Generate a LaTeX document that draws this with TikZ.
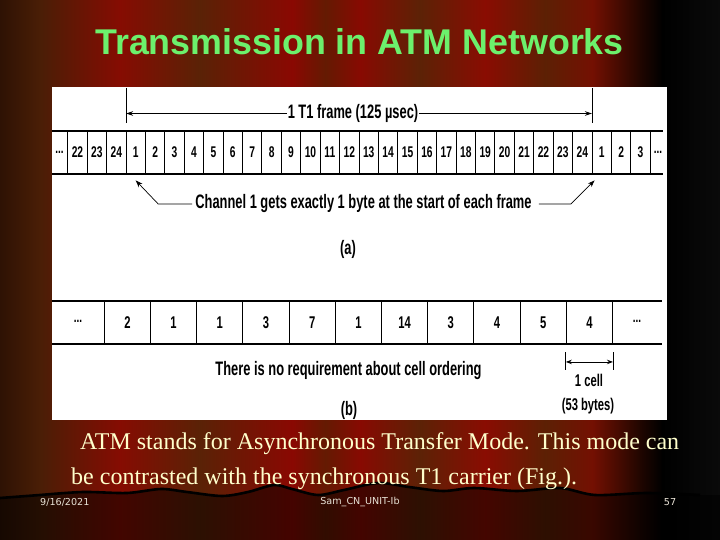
\documentclass[tikz,border=0pt]{standalone}
\usepackage{fontspec}
\usepackage{graphicx}
\setmainfont{Liberation Serif}
\newfontfamily\figfont[FakeStretch=0.66]{Liberation Sans}
\newfontfamily\titlefont{Liberation Sans}
\newfontfamily\footfont{DejaVu Sans}
\usetikzlibrary{arrows.meta}
\definecolor{s0}{RGB}{46,18,4}
\definecolor{s1}{RGB}{74,30,6}
\definecolor{s2}{RGB}{134,12,2}
\definecolor{s3}{RGB}{90,34,6}
\definecolor{s4}{RGB}{138,8,2}
\definecolor{s5}{RGB}{100,26,2}
\definecolor{s6}{RGB}{136,10,2}
\definecolor{s7}{RGB}{92,34,6}
\definecolor{s8}{RGB}{138,12,2}
\definecolor{s9}{RGB}{92,32,4}
\definecolor{s10}{RGB}{116,16,2}
\definecolor{s11}{RGB}{32,6,0}
\definecolor{s12}{RGB}{0,0,0}
\definecolor{s13}{RGB}{10,10,10}
\definecolor{titlegreen}{RGB}{108,240,108}
\definecolor{cream}{RGB}{255,255,204}
\definecolor{footcol}{RGB}{232,226,214}
\tikzset{
  tcell/.style={draw=black, line width=0.9pt, minimum width=19.417pt, minimum height=43pt, inner sep=0pt,
    font=\figfont\bfseries\fontsize{15.5}{16}\selectfont},
  bcell/.style={draw=black, line width=0.9pt, minimum width=46.2pt, minimum height=43pt, inner sep=0pt,
    font=\figfont\bfseries\fontsize{17}{18}\selectfont},
  lbl/.style={font=\figfont\bfseries\fontsize{19.5}{21}\selectfont, inner sep=1pt},
  slbl/.style={font=\figfont\bfseries\fontsize{17}{19}\selectfont, inner sep=1pt},
  dots/.style={font=\figfont\bfseries\fontsize{15}{16}\selectfont, inner sep=0pt},
  rule/.style={line width=1.7pt},
  marker/.style={line width=0.9pt},
  arr/.style={line width=0.9pt, -{Stealth[length=7pt,width=4.5pt]}},
  thinarr/.style={line width=0.7pt, -{Stealth[length=7pt,width=5pt]}},
  body/.style={font=\fontsize{24}{28}\selectfont, text=cream, anchor=base west, inner sep=0pt},
  foot/.style={font=\footfont\fontsize{9.6}{11}\selectfont, text=footcol, inner sep=0pt}
}
\begin{document}
\begin{tikzpicture}[x=1pt,y=-1pt]
\useasboundingbox (0,0) rectangle (720,540);
% curtain background
\shade[left color=s0,right color=s1] (0,0) rectangle (40.5,540);
\shade[left color=s1,right color=s2] (40,0) rectangle (120.5,540);
\shade[left color=s2,right color=s3] (120,0) rectangle (200.5,540);
\shade[left color=s3,right color=s4] (200,0) rectangle (292.5,540);
\shade[left color=s4,right color=s5] (292,0) rectangle (325.5,540);
\shade[left color=s5,right color=s6] (325,0) rectangle (360.5,540);
\shade[left color=s6,right color=s7] (360,0) rectangle (420.5,540);
\shade[left color=s7,right color=s8] (420,0) rectangle (485.5,540);
\shade[left color=s8,right color=s9] (485,0) rectangle (545.5,540);
\shade[left color=s9,right color=s10] (545,0) rectangle (592.5,540);
\shade[left color=s10,right color=s11] (592,0) rectangle (640.5,540);
\shade[left color=s11,right color=s12] (640,0) rectangle (662.5,540);
\shade[left color=s12,right color=s13] (662,0) rectangle (720,540);
% hem below the curtain edge
\fill[black,opacity=0.5] (0,498) -- plot[smooth] coordinates {(40,495) (83,492) (127,493) (161,489) (187,492) (222,496) (248,492) (274,485) (292,489) (318,495) (344,490) (378,483) (409,487) (443,491) (474,488) (517,491) (560,488) (595,495) (647,493) (700,495)} -- (720,495) -- (720,540) -- (0,540) -- cycle;
\draw[black,line width=2.6pt] (0,498) -- plot[smooth] coordinates {(40,495) (83,492) (127,493) (161,489) (187,492) (222,496) (248,492) (274,485) (292,489) (318,495) (344,490) (378,483) (409,487) (443,491) (474,488) (517,491) (560,488) (595,495) (647,493) (700,495)};
% title
\node[font=\titlefont\bfseries\fontsize{35.8}{40}\selectfont, text=titlegreen, anchor=base] (title) at (359.5,55) {Transmission in ATM Networks};
% white figure panel
\fill[white] (52,87) rectangle (667,420);
% ---------- (a) T1 frame ----------
\foreach \lab [count=\i] in {22,23,24,1,2,3,4,5,6,7,8,9,10,11,12,13,14,15,16,17,18,19,20,21,22,23,24,1,2,3}
  \node[tcell] (t\i) at ({67.75+(\i-0.5)*19.417},152.5) {\lab};
\draw[rule] (52,131) -- (663,131);
\draw[rule] (52,174) -- (663,174);
\node[dots] (tl) at (59.5,152.5) {...};
\node[dots] (tr) at (658,152.5) {...};
\coordinate (m1t) at (126,88);
\coordinate (m1b) at (126,123);
\coordinate (m2t) at (592,88);
\coordinate (m2b) at (592,123);
\draw[marker] (m1t) -- (m1b);
\draw[marker] (m2t) -- (m2b);
\node[lbl] (frame) at (353,113.5) {1 T1 frame (125 µsec)};
\draw[arr] (frame.west) -- (frame.west -| m1t);
\draw[arr] (frame.east) -- (frame.east -| m2t);
\node[lbl] (ch) at (363.5,204) {Channel 1 gets exactly 1 byte at the start of each frame};
\draw[thinarr] ([xshift=-2pt]ch.west) -- ++(-34,0) -- ([xshift=0pt,yshift=-6pt]t4.south);
\draw[thinarr] ([xshift=6pt]ch.east) -- ++(32,0) -- ([xshift=3pt,yshift=-6pt]t28.south west);
\node[lbl] (capa) at (348,249) {(a)};
% ---------- (b) ATM cells ----------
\foreach \lab [count=\i] in {2,1,1,3,7,1,14,3,4,5,4}
  \node[bcell] (b\i) at ({104.3+(\i-0.5)*46.2},322.5) {\lab};
\draw[rule] (52,301) -- (662,301);
\draw[rule] (52,344) -- (662,344);
\node[dots] (bl) at (78,321) {...};
\node[dots] (br) at (637,321) {...};
\node[lbl] (order) at (348.5,370) {There is no requirement about cell ordering};
\coordinate (k1t) at ([yshift=-8pt]b11.south west);
\coordinate (k1b) at ([yshift=-26pt]b11.south west);
\coordinate (k2t) at ([yshift=-8pt]b11.south east);
\coordinate (k2b) at ([yshift=-26pt]b11.south east);
\draw[marker] (k1t) -- (k1b);
\draw[marker] (k2t) -- (k2b);
\coordinate (a1) at ([yshift=-17.5pt]b11.south west);
\coordinate (a2) at ([yshift=-17.5pt]b11.south east);
\draw[line width=0.9pt, {Stealth[length=6pt,width=4.5pt]}-{Stealth[length=6pt,width=4.5pt]}] (a1) -- (a2);
\node[slbl] (onecell) at (589,380) {1 cell};
\node[slbl] (bytes) at (588,406.5) {(53 bytes)};
\node[lbl] (capb) at (349,410) {(b)};
% ---------- slide text ----------
\node[body] (l1) at (80,449) {ATM stands for Asynchronous Transfer Mode. This mode can};
\node[body] (l2) at (71,484.5) {be contrasted with the synchronous T1 carrier (Fig.).};
\node[foot, anchor=west] (date) at (40,502) {9/16/2021};
\node[foot] (unit) at (360,502) {Sam\_CN\_UNIT-Ib};
\node[foot] (page) at (670,502) {57};
\end{tikzpicture}
\end{document}
